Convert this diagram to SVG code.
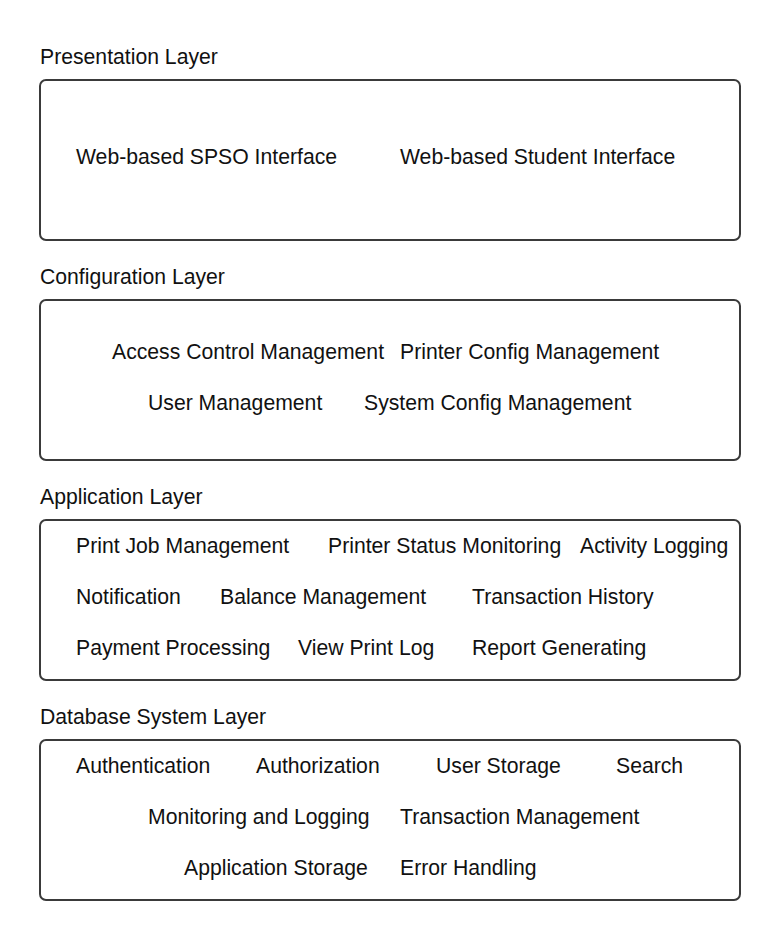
<svg xmlns="http://www.w3.org/2000/svg" width="780" height="940" viewBox="0 0 780 940">
<style>
.box{fill:#ffffff;stroke:#3a3a3a;stroke-width:2}
text{font-family:"Liberation Sans",Arial,sans-serif;font-size:21.2px;fill:#111111}
</style>
<rect x="0" y="0" width="780" height="940" fill="#ffffff"/>
<g id="presentation-layer">
<text x="40" y="64">Presentation Layer</text>
<rect class="box" x="40" y="80" width="700" height="160" rx="6"/>
<text x="76" y="164">Web-based SPSO Interface</text>
<text x="400" y="164">Web-based Student Interface</text>
</g>
<g id="configuration-layer">
<text x="40" y="284">Configuration Layer</text>
<rect class="box" x="40" y="300" width="700" height="160" rx="6"/>
<text x="112" y="359">Access Control Management</text>
<text x="400" y="359">Printer Config Management</text>
<text x="148" y="410">User Management</text>
<text x="364" y="410">System Config Management</text>
</g>
<g id="application-layer">
<text x="40" y="504">Application Layer</text>
<rect class="box" x="40" y="520" width="700" height="160" rx="6"/>
<text x="76" y="553">Print Job Management</text>
<text x="328" y="553">Printer Status Monitoring</text>
<text x="580" y="553">Activity Logging</text>
<text x="76" y="604">Notification</text>
<text x="220" y="604">Balance Management</text>
<text x="472" y="604">Transaction History</text>
<text x="76" y="655">Payment Processing</text>
<text x="298" y="655">View Print Log</text>
<text x="472" y="655">Report Generating</text>
</g>
<g id="database-system-layer">
<text x="40" y="724">Database System Layer</text>
<rect class="box" x="40" y="740" width="700" height="160" rx="6"/>
<text x="76" y="773">Authentication</text>
<text x="256" y="773">Authorization</text>
<text x="436" y="773">User Storage</text>
<text x="616" y="773">Search</text>
<text x="148" y="824">Monitoring and Logging</text>
<text x="400" y="824">Transaction Management</text>
<text x="184" y="875">Application Storage</text>
<text x="400" y="875">Error Handling</text>
</g>
<g id="connectors"></g>
</svg>
